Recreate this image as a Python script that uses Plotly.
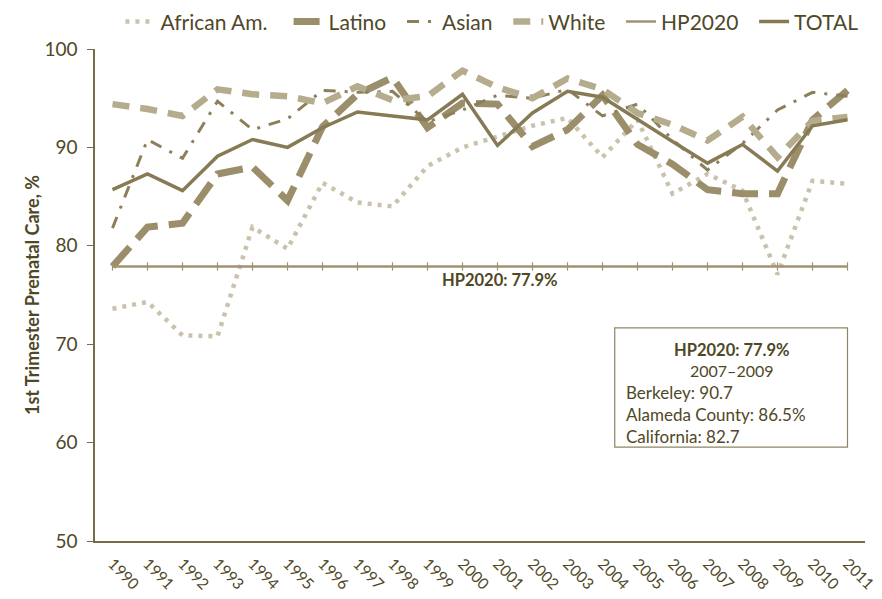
import plotly.graph_objects as go

years = list(range(1990, 2012))
year_labels = [str(y) for y in years]

african_am = [73.6, 74.3, 70.9, 70.8, 81.9, 79.7, 86.4, 84.4, 84.0, 88.1, 90.0,
              91.1, 92.2, 93.0, 89.0, 92.8, 85.3, 87.3, 85.6, 77.1, 86.6, 86.3]
latino = [77.9, 81.9, 82.3, 87.3, 88.0, 84.6, 92.1, 95.4, 97.1, 92.0, 94.5,
          94.4, 90.1, 91.8, 95.3, 90.3, 88.3, 85.7, 85.3, 85.3, 92.8, 95.8]
asian = [81.8, 90.8, 88.9, 94.7, 91.8, 92.9, 95.8, 95.6, 95.7, 92.6, 93.8,
         95.3, 95.0, 95.9, 93.2, 94.4, 90.8, 87.7, 90.4, 93.8, 95.6, 95.2]
white = [94.4, 93.9, 93.2, 95.9, 95.4, 95.2, 94.5, 96.2, 94.8, 95.2, 97.8,
         96.1, 95.0, 97.0, 95.9, 93.5, 92.3, 90.7, 93.1, 89.0, 92.7, 93.1]
total = [85.7, 87.3, 85.6, 89.1, 90.8, 90.0, 92.0, 93.6, 93.2, 92.8, 95.4,
         90.2, 93.5, 95.7, 95.1, 92.8, 90.6, 88.4, 90.3, 87.6, 92.2, 92.8]
hp2020_value = 77.9
hp2020 = [hp2020_value] * len(years)

box_lines = ["Berkeley: 90.7", "Alameda County: 86.5%", "California: 82.7"]

TEXT = "#4f4826"
AXIS = "#766c48"
FONT = "Lato, 'Open Sans', sans-serif"
PAD = "\u00a0\u00a0"

fig = go.Figure()
fig.add_trace(go.Scatter(x=years, y=african_am, name="African Am." + PAD + "\u00a0", mode="lines",
                         line=dict(color="#cbc2ab", width=4.5, dash="4px,6px")))
fig.add_trace(go.Scatter(x=years, y=latino, name="Latino" + PAD, mode="lines",
                         line=dict(color="#9b8e6b", width=7, dash="26px,11px")))
fig.add_trace(go.Scatter(x=years, y=asian, name="Asian" + PAD, mode="lines",
                         line=dict(color="#8c7f5a", width=3, dash="12px,9px,3px,9px")))
fig.add_trace(go.Scatter(x=years, y=white, name="White" + PAD, mode="lines",
                         line=dict(color="#b5ab8d", width=6.5, dash="17px,11px")))
fig.add_trace(go.Scatter(x=years, y=hp2020, name="HP2020" + PAD, mode="lines",
                         line=dict(color="#9f9373", width=2.5)))
fig.add_trace(go.Scatter(x=years, y=hp2020, showlegend=False, mode="markers",
                         hoverinfo="skip",
                         marker=dict(symbol="line-ns", size=6,
                                     line=dict(color="#9f9373", width=1.2))))
fig.add_trace(go.Scatter(x=years, y=total, name="TOTAL", mode="lines",
                         line=dict(color="#877b55", width=3.5)))

# HP2020 label on the line
fig.add_annotation(x=2001.07, y=76.5, text="<b>HP2020: 77.9%</b>", showarrow=False,
                   font=dict(size=16.5, color=TEXT, family=FONT), xanchor="center", yanchor="middle")

# info box
fig.add_shape(type="rect", x0=2004.35, x1=2011.0, y0=59.55, y1=71.65,
              line=dict(color="#8e8464", width=1.2), fillcolor="white", layer="above")
fig.add_annotation(x=2007.69, y=69.4, text="<b>HP2020: 77.9%</b>", showarrow=False,
                   font=dict(size=16.5, color=TEXT, family=FONT), xanchor="center", yanchor="middle")
fig.add_annotation(x=2007.69, y=67.3, text="2007\u20132009", showarrow=False,
                   font=dict(size=16, color=TEXT, family=FONT), xanchor="center", yanchor="middle")
for txt, yy in zip(box_lines, [65.14, 62.85, 60.6]):
    fig.add_annotation(x=2004.6, y=yy, text=txt, showarrow=False,
                       font=dict(size=17, color=TEXT, family=FONT), xanchor="left", yanchor="middle")

fig.update_layout(
    width=882, height=599,
    margin=dict(l=95, r=17, t=49, b=58, autoexpand=False),
    paper_bgcolor="white", plot_bgcolor="white",
    font=dict(family=FONT, color=TEXT),
    showlegend=True,
    legend=dict(orientation="h", x=0.033, xanchor="left", y=1.055, yanchor="middle",
                font=dict(size=21, color=TEXT, family=FONT),
                itemwidth=30, tracegroupgap=0, bgcolor="rgba(0,0,0,0)"),
    xaxis=dict(range=[1989.5, 2011.5], tickmode="array", tickvals=years, ticktext=year_labels,
               tickangle=45, showgrid=False, zeroline=False, showline=True,
               linecolor=AXIS, linewidth=1.5, ticks="", automargin=False,
               tickfont=dict(size=15.5, color=TEXT, family=FONT), ticklabelstandoff=6),
    yaxis=dict(range=[50, 100], tickmode="array", tickvals=[50, 60, 70, 80, 90, 100],
               showgrid=False, zeroline=False, showline=True, linecolor=AXIS, linewidth=1.5,
               ticks="outside", ticklen=6, tickcolor=AXIS, automargin=False,
               tickfont=dict(size=19, color=TEXT, family=FONT), ticklabelstandoff=6,
               title=dict(text="<b>1st Trimester Prenatal Care, %</b>",
                          font=dict(size=18, color=TEXT, family=FONT), standoff=0)),
)

fig.write_html("out.html", config={"displayModeBar": False},
               post_script="document.body.style.margin='0';document.body.style.padding='0';")
